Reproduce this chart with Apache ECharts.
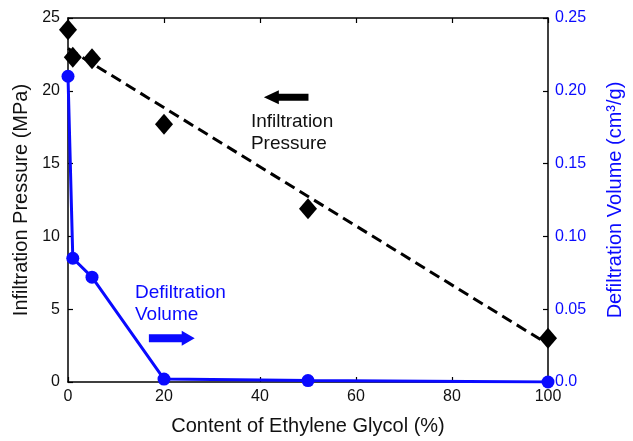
<!DOCTYPE html>
<html>
<head>
<meta charset="utf-8">
<script src="https://cdn.jsdelivr.net/npm/echarts@6/dist/echarts.min.js"></script>
<style>html,body{margin:0;padding:0;background:#fff}#c{width:633px;height:441px}</style>
</head>
<body>
<div id="c"></div>
<script>
// ---- data ----
var glycol = [0, 1, 5, 20, 50, 100];
var infiltrationPressure = [24.2, 22.3, 22.2, 17.7, 11.9, 3.0];
var defiltrationVolume = [0.21, 0.085, 0.072, 0.002, 0.001, 0.0];
var trendX = [0, 100];
var trendY = [22.9, 2.6];
var xTickLabels = ['0', '20', '40', '60', '80', '100'];
var leftTickLabels = ['0', '5', '10', '15', '20', '25'];
var rightTickLabels = ['0.0', '0.05', '0.10', '0.15', '0.20', '0.25'];

var BLUE = '#0a0aff';
var FONT = 'Liberation Sans, Arial, Helvetica, sans-serif';

function pairs(xs, ys) { return xs.map(function (x, i) { return [x, ys[i]]; }); }

var chart = echarts.init(document.getElementById('c'), null, { renderer: 'canvas' });

var axisLine = { show: true, onZero: false, lineStyle: { color: '#000', width: 1.5 } };
var tick = { show: true, inside: true, length: 5, lineStyle: { color: '#000', width: 1.2 } };

chart.setOption({
  animation: false,
  backgroundColor: '#fff',
  grid: { left: 68, right: 82, top: 18, bottom: 56, containLabel: false },
  xAxis: [{
    type: 'value', min: 0, max: 100, interval: 20, position: 'bottom',
    axisLine: axisLine, axisTick: tick, splitLine: { show: false },
    axisLabel: { fontSize: 16, color: '#111', fontFamily: FONT, margin: 7,
      formatter: function (v) { return xTickLabels[Math.round(v / 20)]; } },
    name: 'Content of Ethylene Glycol (%)', nameLocation: 'middle', nameGap: 34,
    nameTextStyle: { fontSize: 20, color: '#111', fontFamily: FONT }
  }, {
    type: 'value', min: 0, max: 100, interval: 20, position: 'top',
    axisLine: axisLine, axisTick: tick, splitLine: { show: false },
    axisLabel: { show: false }
  }],
  yAxis: [{
    type: 'value', min: 0, max: 25, interval: 5, position: 'left',
    axisLine: axisLine, axisTick: tick, splitLine: { show: false },
    axisLabel: { fontSize: 16, color: '#111', fontFamily: FONT, margin: 8,
      formatter: function (v) { return leftTickLabels[Math.round(v / 5)]; } },
    name: 'Infiltration Pressure (MPa)', nameLocation: 'middle', nameGap: 37, nameRotate: 90,
    nameTextStyle: { fontSize: 20, color: '#111', fontFamily: FONT }
  }, {
    type: 'value', min: 0, max: 0.25, interval: 0.05, position: 'right',
    axisLine: axisLine, axisTick: tick, splitLine: { show: false },
    axisLabel: { fontSize: 16, color: BLUE, fontFamily: FONT, margin: 7,
      formatter: function (v) { return rightTickLabels[Math.round(v / 0.05)]; } },
    name: 'Defiltration Volume (cm³/g)', nameLocation: 'middle', nameGap: 57, nameRotate: 90,
    nameTextStyle: { fontSize: 20, color: BLUE, fontFamily: FONT }
  }],
  series: [{
    name: 'trend', type: 'line', xAxisIndex: 0, yAxisIndex: 0,
    data: pairs(trendX, trendY), showSymbol: false, symbol: 'none',
    lineStyle: { color: '#000', width: 3, type: [11, 6] }, z: 2, silent: true
  }, {
    name: 'Defiltration Volume', type: 'line', xAxisIndex: 0, yAxisIndex: 1,
    data: pairs(glycol, defiltrationVolume), symbol: 'circle', symbolSize: 13,
    lineStyle: { color: BLUE, width: 3 }, itemStyle: { color: BLUE, opacity: 1 }, z: 3
  }, {
    name: 'Infiltration Pressure', type: 'scatter', xAxisIndex: 0, yAxisIndex: 0,
    data: pairs(glycol, infiltrationPressure), symbol: 'diamond', symbolSize: [18, 21],
    itemStyle: { color: '#000', opacity: 1 }, z: 4
  }]
});

// ---- annotations (arrows + labels) placed in data coordinates ----
function px(x, y) { return chart.convertToPixel({ xAxisIndex: 0, yAxisIndex: 0 }, [x, y]); }
function arrow(tail, tip, color, shaftH, headL, headH) {
  var a = px(tail[0], tail[1]), b = px(tip[0], tip[1]);
  var d = b[0] > a[0] ? 1 : -1, y = b[1], s = shaftH / 2, h = headH / 2, hb = b[0] - d * headL;
  return { type: 'polygon', z: 100, shape: { points: [
    [a[0], y - s], [hb, y - s], [hb, y - h], [b[0], y], [hb, y + h], [hb, y + s], [a[0], y + s]
  ] }, style: { fill: color } };
}
function label(pos, text, color) {
  var p = px(pos[0], pos[1]);
  return { type: 'text', z: 100, x: p[0], y: p[1], style: {
    text: text, fill: color, font: '19px ' + FONT, lineHeight: 22, align: 'left', verticalAlign: 'top'
  } };
}
chart.setOption({
  graphic: [
    arrow([50.1, 19.55], [40.8, 19.55], '#000', 7, 15, 14),
    arrow([16.85, 3.0], [26.4, 3.0], BLUE, 8, 13, 15),
    label([38.1, 18.66], 'Infiltration\nPressure', '#111'),
    label([13.95, 6.91], 'Defiltration\nVolume', BLUE)
  ]
});
</script>
</body>
</html>
